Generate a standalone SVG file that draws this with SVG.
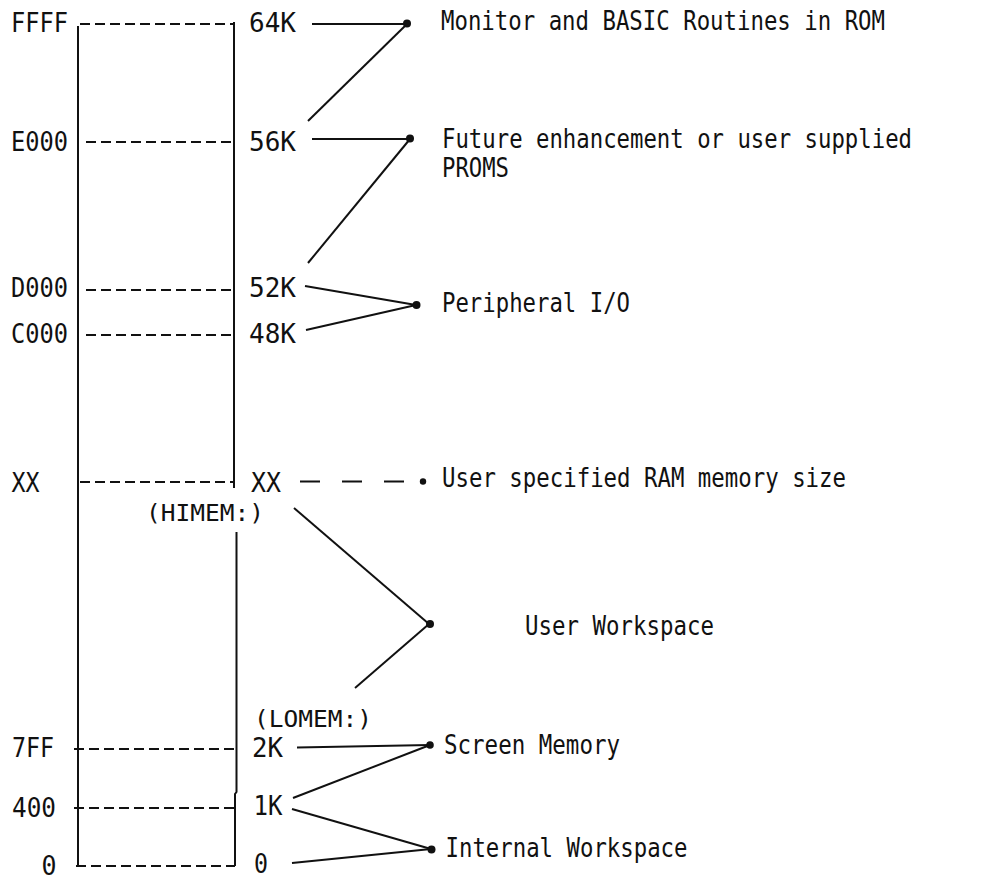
<svg xmlns="http://www.w3.org/2000/svg" width="989" height="880" viewBox="0 0 989 880">
<style>
text{font-family:"DejaVu Sans Mono","Liberation Mono",monospace;font-size:26px;fill:#111}
.sm{font-size:23px}
.box{fill:none;stroke:#111;stroke-width:2}
.dash{stroke:#111;stroke-width:2;stroke-dasharray:10 5;fill:none}
.con{stroke:#111;stroke-width:2;fill:none}
.dcon{stroke:#111;stroke-width:2;fill:none;stroke-dasharray:20 22}
.dot{fill:#111}
</style>
<rect width="989" height="880" fill="#fff"/>
<g id="memory-map">
<line class="box" x1="78" y1="26" x2="78" y2="866"/>
<polyline class="box" points="234,22 234,488"/>
<polyline class="box" points="236.5,532 236.5,792 235,794 235,866"/>
<line class="dash" x1="80" y1="24" x2="233" y2="24"/>
<line class="dash" x1="86" y1="142" x2="233" y2="142"/>
<line class="dash" x1="86" y1="290" x2="233" y2="290"/>
<line class="dash" x1="86" y1="335" x2="233" y2="335"/>
<line class="dash" x1="80" y1="482" x2="234" y2="482"/>
<line class="dash" x1="74" y1="749" x2="235" y2="749"/>
<line class="dash" x1="74" y1="808" x2="235" y2="808"/>
<line class="dash" x1="76" y1="866" x2="235" y2="866"/>
</g>
<g id="addr-FFFF"><text x="11" y="31.5" textLength="57" lengthAdjust="spacingAndGlyphs">FFFF</text><text x="249" y="31.5" textLength="47" lengthAdjust="spacingAndGlyphs">64K</text></g>
<g id="addr-E000"><text x="11" y="150.5" textLength="57" lengthAdjust="spacingAndGlyphs">E000</text><text x="249" y="150.5" textLength="47" lengthAdjust="spacingAndGlyphs">56K</text></g>
<g id="addr-D000"><text x="11" y="297" textLength="57" lengthAdjust="spacingAndGlyphs">D000</text><text x="249" y="297" textLength="47" lengthAdjust="spacingAndGlyphs">52K</text></g>
<g id="addr-C000"><text x="11" y="343" textLength="57" lengthAdjust="spacingAndGlyphs">C000</text><text x="249" y="342.5" textLength="47" lengthAdjust="spacingAndGlyphs">48K</text></g>
<g id="addr-XX"><text x="11.5" y="492" textLength="28" lengthAdjust="spacingAndGlyphs">XX</text><text x="251" y="491.5" textLength="30" lengthAdjust="spacingAndGlyphs">XX</text><text class="sm" x="146" y="521" textLength="118" lengthAdjust="spacingAndGlyphs">(HIMEM:)</text></g>
<g id="addr-LOMEM"><text class="sm" x="254" y="727" textLength="118" lengthAdjust="spacingAndGlyphs">(LOMEM:)</text></g>
<g id="addr-7FF"><text x="12" y="756.5" textLength="42" lengthAdjust="spacingAndGlyphs">7FF</text><text x="252" y="756.5" textLength="31" lengthAdjust="spacingAndGlyphs">2K</text></g>
<g id="addr-400"><text x="12" y="816.5" textLength="44" lengthAdjust="spacingAndGlyphs">400</text><text x="253.5" y="815" textLength="29" lengthAdjust="spacingAndGlyphs">1K</text></g>
<g id="addr-0"><text x="41.5" y="875" textLength="15" lengthAdjust="spacingAndGlyphs">0</text><text x="254" y="873" textLength="14" lengthAdjust="spacingAndGlyphs">0</text></g>
<g id="connectors">
<line class="con" x1="312" y1="24" x2="407" y2="24"/>
<line class="con" x1="407" y1="24" x2="308" y2="121"/>
<line class="con" x1="312" y1="139" x2="410" y2="139"/>
<line class="con" x1="410" y1="139" x2="308" y2="263"/>
<line class="con" x1="305" y1="286" x2="416" y2="305"/>
<line class="con" x1="306" y1="330" x2="416" y2="305"/>
<line class="dcon" x1="300" y1="481.5" x2="410" y2="481.5"/>
<line class="con" x1="294" y1="508" x2="429" y2="624"/>
<line class="con" x1="355" y1="688" x2="429" y2="624"/>
<line class="con" x1="297" y1="747.5" x2="430" y2="745"/>
<line class="con" x1="293" y1="798" x2="430" y2="745"/>
<line class="con" x1="292" y1="809" x2="431" y2="849"/>
<line class="con" x1="292" y1="863" x2="431" y2="849"/>
<circle class="dot" cx="407" cy="23.5" r="4"/>
<circle class="dot" cx="410" cy="138.5" r="4"/>
<circle class="dot" cx="416.5" cy="305" r="4"/>
<circle class="dot" cx="423" cy="481.5" r="3.2"/>
<circle class="dot" cx="430" cy="624" r="4"/>
<circle class="dot" cx="430" cy="745" r="3.8"/>
<circle class="dot" cx="431.5" cy="849.5" r="4"/>
</g>
<g id="label-rom"><text x="441" y="30" textLength="444" lengthAdjust="spacingAndGlyphs">Monitor and BASIC Routines in ROM</text></g>
<g id="label-proms"><text x="442" y="148" textLength="470" lengthAdjust="spacingAndGlyphs">Future enhancement or user supplied</text><text x="442" y="177" textLength="67" lengthAdjust="spacingAndGlyphs">PROMS</text></g>
<g id="label-io"><text x="442" y="311.5" textLength="188" lengthAdjust="spacingAndGlyphs">Peripheral I/O</text></g>
<g id="label-ram"><text x="442" y="486.5" textLength="404" lengthAdjust="spacingAndGlyphs">User specified RAM memory size</text></g>
<g id="label-user"><text x="525" y="635" textLength="189" lengthAdjust="spacingAndGlyphs">User Workspace</text></g>
<g id="label-screen"><text x="444" y="754" textLength="176" lengthAdjust="spacingAndGlyphs">Screen Memory</text></g>
<g id="label-internal"><text x="445.5" y="856.5" textLength="242" lengthAdjust="spacingAndGlyphs">Internal Workspace</text></g>
</svg>
